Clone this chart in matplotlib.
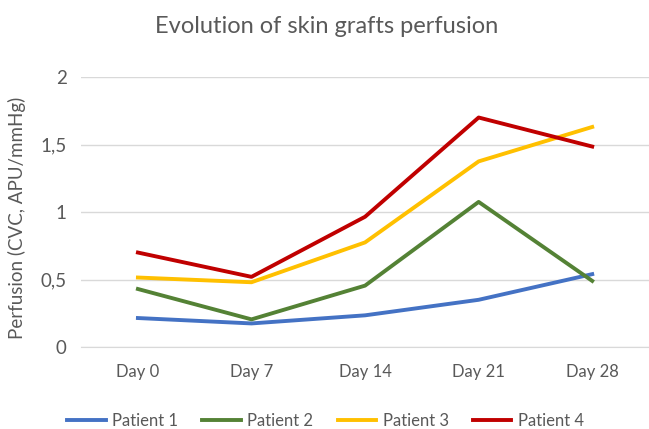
import matplotlib
matplotlib.use("Agg")
import matplotlib.pyplot as plt

# data
days = ["Day 0", "Day 7", "Day 14", "Day 21", "Day 28"]
patient1 = [0.215, 0.175, 0.235, 0.35, 0.54]
patient2 = [0.43, 0.205, 0.455, 1.075, 0.49]
patient3 = [0.515, 0.48, 0.775, 1.375, 1.63]
patient4 = [0.70, 0.52, 0.965, 1.70, 1.485]
yticks = [0, 0.5, 1, 1.5, 2]
ytick_labels = ["0", "0,5", "1", "1,5", "2"]

plt.rcParams["font.family"] = ["Lato", "DejaVu Sans"]
grey = "#595959"

fig = plt.figure(figsize=(6.49, 4.29), dpi=100)
ax = fig.add_axes([0.125, 0.191, 0.875, 0.6295])

x = list(range(len(days)))
ax.plot(x, patient1, color="#4472C4", lw=2.8, label="Patient 1")
ax.plot(x, patient2, color="#548235", lw=2.8, label="Patient 2")
ax.plot(x, patient3, color="#FFC000", lw=2.8, label="Patient 3")
ax.plot(x, patient4, color="#C00000", lw=2.8, label="Patient 4")

ax.set_xlim(-0.5, 4.5)
ax.set_ylim(0, 2)
ax.set_xticks(x)
ax.set_xticklabels(days)
ax.set_yticks(yticks)
ax.set_yticklabels(ytick_labels)
ax.tick_params(axis="both", length=0, colors=grey)
ax.tick_params(axis="x", pad=12, labelsize=12)
ax.tick_params(axis="y", pad=10.4, labelsize=13.5)
ax.grid(axis="y", color="#D9D9D9", lw=1)
ax.set_axisbelow(True)
for s in ["top", "right", "left"]:
    ax.spines[s].set_visible(False)
ax.spines["bottom"].set_color("#D9D9D9")

yl = ax.set_ylabel("Perfusion (CVC, APU/mmHg)", color=grey, fontsize=13.5)
yl.set_va("center")
ax.yaxis.set_label_coords(-0.1136, 0.478)

fig.text(0.503, 0.939, "Evolution of skin grafts perfusion", color=grey,
         fontsize=17, ha="center", va="center")

fig.legend(loc="center", bbox_to_anchor=(0.5016, 0.019), ncol=4, frameon=False,
           fontsize=12, labelcolor=grey, handlelength=2.3, handletextpad=0.4,
           columnspacing=1.45)

fig.savefig("out.png", dpi=100)
